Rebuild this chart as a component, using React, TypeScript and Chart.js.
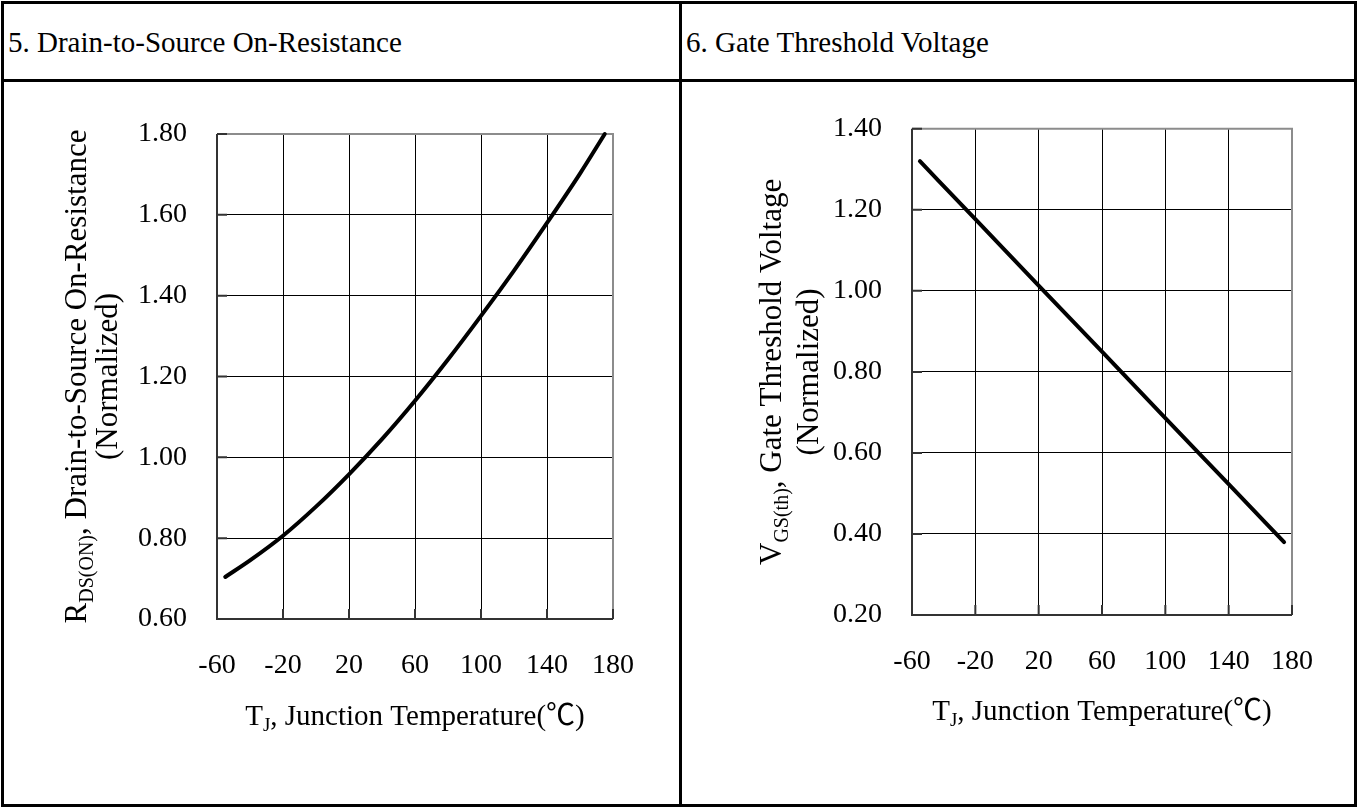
import React, { useEffect, useRef } from 'react';
import { Chart, registerables } from 'chart.js';

Chart.register(...registerables);

const FONT = "'Liberation Serif', 'Times New Roman', 'Noto Sans CJK SC', serif";

// ---------- data ----------
const rdsTemps = [-55, -40, -20, 0, 20, 40, 60, 80, 100, 120, 140, 160, 175];
const rdsValues = [0.704, 0.745, 0.806, 0.878, 0.958, 1.045, 1.140, 1.242, 1.350, 1.462, 1.580, 1.702, 1.80];

const vthTemps = [-55, -20, 20, 60, 100, 140, 175];
const vthValues = [1.32, 1.177, 1.013, 0.850, 0.686, 0.523, 0.38];

const xTickValues = [-60, -20, 20, 60, 100, 140, 180];
const xTickLabels = ['-60', '-20', '20', '60', '100', '140', '180'];

const rdsYTickValues = [0.6, 0.8, 1.0, 1.2, 1.4, 1.6, 1.8];
const rdsYTickLabels = ['0.60', '0.80', '1.00', '1.20', '1.40', '1.60', '1.80'];

const vthYTickValues = [0.2, 0.4, 0.6, 0.8, 1.0, 1.2, 1.4];
const vthYTickLabels = ['0.20', '0.40', '0.60', '0.80', '1.00', '1.20', '1.40'];

const header5 = '5. Drain-to-Source On-Resistance';
const header6 = '6. Gate Threshold Voltage';

type Seg = { text: string; sub?: boolean };
const xTitle: Seg[] = [{ text: 'T' }, { text: 'J', sub: true }, { text: ', Junction Temperature(\u2103)' }];
const rdsYTitle: Seg[] = [{ text: 'R' }, { text: 'DS(ON)', sub: true }, { text: ', Drain-to-Source On-Resistance' }];
const vthYTitle: Seg[] = [{ text: 'V' }, { text: 'GS(th)', sub: true }, { text: ', Gate Threshold Voltage' }];
const yTitle2: Seg[] = [{ text: '(Normalized)' }];

// ---------- helpers ----------
const X_TITLE_SIZE = 29;
const Y_TITLE_SIZE = 31;
const TICK_SIZE = 28;

function segFont(s: Seg, size: number) {
  return `${s.sub ? Math.round(size * 0.66) : size}px ${FONT}`;
}
function measureRich(ctx: CanvasRenderingContext2D, segs: Seg[], size: number) {
  let w = 0;
  for (const s of segs) {
    ctx.font = segFont(s, size);
    w += ctx.measureText(s.text).width;
  }
  return w;
}
function drawRich(ctx: CanvasRenderingContext2D, segs: Seg[], size: number, cx: number, baseline: number) {
  const w = measureRich(ctx, segs, size);
  let x = cx - w / 2;
  ctx.textAlign = 'left';
  ctx.textBaseline = 'alphabetic';
  ctx.fillStyle = '#000';
  for (const s of segs) {
    ctx.font = segFont(s, size);
    ctx.fillText(s.text, x, baseline + (s.sub ? size * 0.22 : 0));
    x += ctx.measureText(s.text).width;
  }
}

type ChartCfg = {
  xs: number[];
  ys: number[];
  yMin: number;
  yMax: number;
  yTicks: number[];
  yLabels: string[];
  yTitle: Seg[];
  padding: { left: number; top: number; right: number; bottom: number };
  xTitleOffset: number;
  yTitle1Offset: number;
  yTitle2Offset: number;
};

function makeChart(canvas: HTMLCanvasElement, c: ChartCfg) {
  const decor = {
    id: 'decor',
    beforeDatasetsDraw(chart: any) {
      const ctx = chart.ctx as CanvasRenderingContext2D;
      const { left, top, right, bottom } = chart.chartArea;
      ctx.save();
      ctx.lineWidth = 2;
      ctx.strokeStyle = '#8c8c8c';
      ctx.beginPath();
      ctx.moveTo(left, top);
      ctx.lineTo(right, top);
      ctx.lineTo(right, bottom);
      ctx.stroke();
      ctx.strokeStyle = '#333';
      ctx.beginPath();
      ctx.moveTo(left, top);
      ctx.lineTo(left, bottom);
      ctx.lineTo(right, bottom);
      ctx.stroke();
      // inner tick marks
      ctx.beginPath();
      for (const v of c.yTicks) {
        const y = chart.scales.y.getPixelForValue(v);
        ctx.moveTo(left, y);
        ctx.lineTo(left + 10, y);
      }
      for (const v of xTickValues) {
        const x = chart.scales.x.getPixelForValue(v);
        ctx.moveTo(x, bottom);
        ctx.lineTo(x, bottom - 10);
      }
      ctx.stroke();
      ctx.restore();
    },
    afterDraw(chart: any) {
      const ctx = chart.ctx as CanvasRenderingContext2D;
      const { left, top, right, bottom } = chart.chartArea;
      ctx.save();
      drawRich(ctx, xTitle, X_TITLE_SIZE, (left + right) / 2, bottom + c.xTitleOffset);
      const cy = (top + bottom) / 2;
      ctx.save();
      ctx.translate(left - c.yTitle1Offset, cy);
      ctx.rotate(-Math.PI / 2);
      drawRich(ctx, c.yTitle, Y_TITLE_SIZE, 0, 0);
      ctx.restore();
      ctx.save();
      ctx.translate(left - c.yTitle2Offset, cy);
      ctx.rotate(-Math.PI / 2);
      drawRich(ctx, yTitle2, Y_TITLE_SIZE, 0, 0);
      ctx.restore();
      ctx.restore();
    },
  };

  return new Chart(canvas, {
    type: 'line',
    data: {
      datasets: [
        {
          data: c.xs.map((x, i) => ({ x, y: c.ys[i] })),
          borderColor: '#000',
          borderWidth: 4,
          pointRadius: 0,
          cubicInterpolationMode: 'monotone',
          fill: false,
          clip: false as any,
          borderCapStyle: 'round',
        } as any,
      ],
    },
    options: {
      animation: false,
      responsive: false,
      maintainAspectRatio: false,
      events: [],
      layout: { padding: c.padding },
      plugins: { legend: { display: false }, tooltip: { enabled: false }, title: { display: false } },
      scales: {
        x: {
          type: 'linear',
          min: -60,
          max: 180,
          afterBuildTicks: (s: any) => {
            s.ticks = xTickValues.map((v) => ({ value: v }));
          },
          afterFit: (s: any) => {
            s.height = 100;
          },
          ticks: {
            callback: (_v: any, i: number) => xTickLabels[i],
            font: { family: FONT, size: TICK_SIZE },
            color: '#000',
            padding: 30,
            maxRotation: 0,
            autoSkip: false,
          },
          grid: { color: '#000', lineWidth: 1, drawTicks: false },
          border: { display: false },
        },
        y: {
          type: 'linear',
          min: c.yMin,
          max: c.yMax,
          afterBuildTicks: (s: any) => {
            s.ticks = c.yTicks.map((v) => ({ value: v }));
          },
          afterFit: (s: any) => {
            s.width = 120;
          },
          ticks: {
            callback: (_v: any, i: number) => c.yLabels[i],
            font: { family: FONT, size: TICK_SIZE },
            color: '#000',
            padding: 30,
            autoSkip: false,
          },
          grid: { color: '#000', lineWidth: 1, drawTicks: false },
          border: { display: false },
        },
      },
    } as any,
    plugins: [decor],
  });
}

function ChartCanvas(props: { cfg: ChartCfg; left: number; top: number; width: number; height: number }) {
  const ref = useRef<HTMLCanvasElement | null>(null);
  useEffect(() => {
    if (!ref.current) return;
    const ch = makeChart(ref.current, props.cfg);
    return () => ch.destroy();
  }, []);
  return (
    <canvas
      ref={ref}
      width={props.width}
      height={props.height}
      style={{ position: 'absolute', left: props.left, top: props.top, width: props.width, height: props.height }}
    />
  );
}

const rdsCfg: ChartCfg = {
  xs: rdsTemps,
  ys: rdsValues,
  yMin: 0.6,
  yMax: 1.8,
  yTicks: rdsYTickValues,
  yLabels: rdsYTickLabels,
  yTitle: rdsYTitle,
  padding: { left: 93, top: 52, right: 66, bottom: 84 },
  xTitleOffset: 106,
  yTitle1Offset: 131,
  yTitle2Offset: 100,
};

const vthCfg: ChartCfg = {
  xs: vthTemps,
  ys: vthValues,
  yMin: 0.2,
  yMax: 1.4,
  yTicks: vthYTickValues,
  yLabels: vthYTickLabels,
  yTitle: vthYTitle,
  padding: { left: 110, top: 44, right: 62, bottom: 88 },
  xTitleOffset: 105,
  yTitle1Offset: 131,
  yTitle2Offset: 94,
};

export default function App() {
  const headerStyle: React.CSSProperties = {
    position: 'absolute',
    top: 28,
    fontFamily: FONT,
    fontSize: 29,
    lineHeight: '29px',
    color: '#000',
    whiteSpace: 'nowrap',
  };
  return (
    <div style={{ position: 'absolute', left: 0, top: 0, width: 1357, height: 810, background: '#fff', overflow: 'hidden' }}>
      <div style={{ position: 'absolute', left: 1, top: 1, width: 1356, height: 806, border: '3px solid #000', boxSizing: 'border-box' }} />
      <div style={{ position: 'absolute', left: 1, top: 79, width: 1356, height: 3, background: '#000' }} />
      <div style={{ position: 'absolute', left: 679, top: 1, width: 3, height: 806, background: '#000' }} />
      <div style={{ ...headerStyle, left: 8 }}>{header5}</div>
      <div style={{ ...headerStyle, left: 686 }}>{header6}</div>
      <ChartCanvas cfg={rdsCfg} left={4} top={82} width={675} height={721} />
      <ChartCanvas cfg={vthCfg} left={682} top={82} width={672} height={721} />
    </div>
  );
}
